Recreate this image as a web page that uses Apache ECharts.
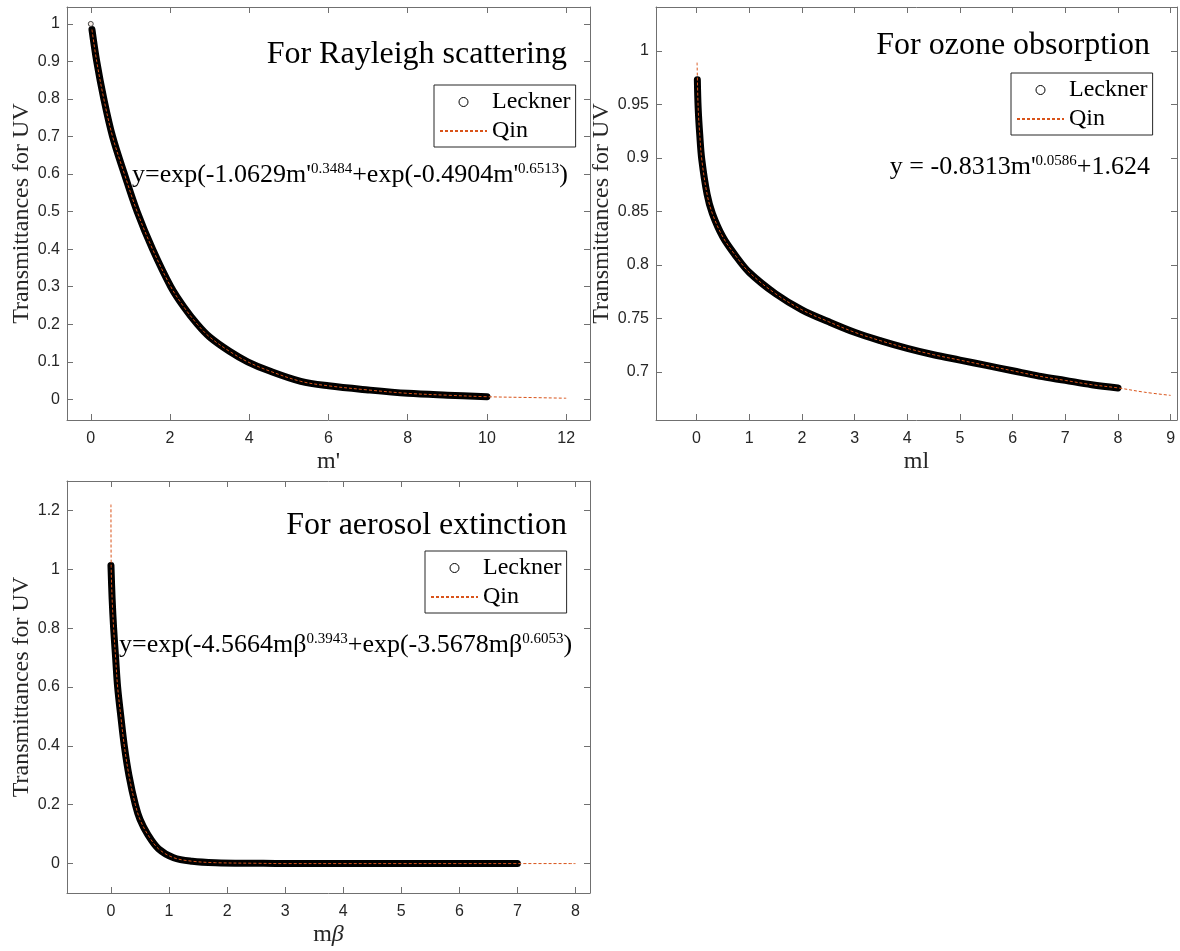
<!DOCTYPE html>
<html>
<head>
<meta charset="utf-8">
<script src="https://cdn.jsdelivr.net/npm/echarts@6/dist/echarts.min.js"></script>
<style>
  html, body { margin: 0; padding: 0; background: #fff; }
  #chart { width: 1180px; height: 951px; }
</style>
</head>
<body>
<div id="chart"></div>
<script>
// ---- Rayleigh scattering: transmittance vs m' ----
const rayleighLecknerX = [0.03, 0.15, 0.33, 0.55, 0.85, 1.17, 1.56, 2.02, 2.35, 2.69, 3.0, 3.5, 3.96, 4.5, 5.3, 6, 7, 8, 9, 10];
const rayleighLecknerY = [0.985, 0.9, 0.8, 0.7, 0.6, 0.5, 0.4, 0.3, 0.246, 0.2, 0.166, 0.128, 0.1, 0.076, 0.048, 0.036, 0.025, 0.016, 0.011, 0.007];
const rayleighLecknerStart = [0, 1.0];
const rayleighQinX = [0.03, 0.15, 0.33, 0.55, 0.85, 1.17, 1.56, 2.02, 2.35, 2.69, 3.0, 3.5, 3.96, 4.5, 5.3, 6, 7, 8, 9, 10, 11, 12];
const rayleighQinY = [0.985, 0.9, 0.8, 0.7, 0.6, 0.5, 0.4, 0.3, 0.246, 0.2, 0.166, 0.128, 0.1, 0.076, 0.048, 0.036, 0.025, 0.016, 0.011, 0.007, 0.005, 0.003];

// ---- Ozone absorption: transmittance vs ml ----
const ozoneLecknerX = [0.015, 0.03, 0.06, 0.1, 0.2, 0.3, 0.5, 0.75, 1, 1.5, 2, 2.5, 3, 3.5, 4, 4.5, 5, 5.5, 6, 6.5, 7, 7.5, 8];
const ozoneLecknerY = [0.973, 0.947, 0.922, 0.898, 0.866, 0.848, 0.826, 0.808, 0.793, 0.773, 0.758, 0.747, 0.737, 0.729, 0.722, 0.716, 0.711, 0.706, 0.701, 0.696, 0.692, 0.688, 0.685];
const ozoneQinX = [0.01, 0.03, 0.06, 0.1, 0.2, 0.3, 0.5, 0.75, 1, 1.5, 2, 2.5, 3, 3.5, 4, 4.5, 5, 5.5, 6, 6.5, 7, 7.5, 8, 8.5, 9];
const ozoneQinY = [0.989, 0.947, 0.922, 0.898, 0.866, 0.848, 0.826, 0.808, 0.793, 0.773, 0.758, 0.747, 0.737, 0.729, 0.722, 0.716, 0.711, 0.706, 0.701, 0.696, 0.692, 0.688, 0.685, 0.681, 0.678];

// ---- Aerosol extinction: transmittance vs m·beta ----
const aerosolLecknerX = [0, 0.02, 0.046, 0.08, 0.115, 0.17, 0.23, 0.31, 0.42, 0.5, 0.63, 0.82, 1.08, 1.4, 1.8, 2.5, 3, 4, 5, 6, 7];
const aerosolLecknerY = [1.013, 0.9, 0.8, 0.7, 0.6, 0.5, 0.4, 0.3, 0.2, 0.15, 0.1, 0.05, 0.02, 0.008, 0.003, 0.001, 0, 0, 0, 0, 0];
const aerosolQinX = [0, 0.004, 0.02, 0.046, 0.08, 0.115, 0.17, 0.23, 0.31, 0.42, 0.5, 0.63, 0.82, 1.08, 1.4, 1.8, 2.5, 3, 4, 5, 6, 7, 8];
const aerosolQinY = [1.22, 1.01, 0.9, 0.8, 0.7, 0.6, 0.5, 0.4, 0.3, 0.2, 0.15, 0.1, 0.05, 0.02, 0.008, 0.003, 0.001, 0, 0, 0, 0, 0, 0];

// ---- Tick values ----
const rayleighXTicks = [0, 2, 4, 6, 8, 10, 12];
const rayleighYTicks = [0, 0.1, 0.2, 0.3, 0.4, 0.5, 0.6, 0.7, 0.8, 0.9, 1];
const ozoneXTicks = [0, 1, 2, 3, 4, 5, 6, 7, 8, 9];
const ozoneYTicks = [0.7, 0.75, 0.8, 0.85, 0.9, 0.95, 1];
const aerosolXTicks = [0, 1, 2, 3, 4, 5, 6, 7, 8];
const aerosolYTicks = [0, 0.2, 0.4, 0.6, 0.8, 1, 1.2];

const zip = (xs, ys) => xs.map((x, i) => [x, ys[i]]);

const AXIS_COLOR = '#707070';
const LABEL_COLOR = '#262626';
const SERIF = 'Liberation Serif';
const SANS = 'Liberation Sans';
const QIN_COLOR = '#D95319';

const grids = [
  { left: 67, top: 7, width: 523, height: 413 },
  { left: 656, top: 7, width: 521, height: 413 },
  { left: 67, top: 481, width: 523, height: 412 }
];

const xAxes = [];
const yAxes = [];

function addAxes(gi, xr, yr, xTicks, yTicks, xName, yName, yGap) {
  const line = { show: true, onZero: false, lineStyle: { color: AXIS_COLOR, width: 1 } };
  const tick = (vals) => ({ show: true, inside: true, length: 6, customValues: vals, lineStyle: { color: AXIS_COLOR, width: 1 } });
  const lbl = (vals, margin) => ({ customValues: vals, color: LABEL_COLOR, fontFamily: SANS, fontSize: 16, margin: margin });
  xAxes.push({
    type: 'value', gridIndex: gi, position: 'bottom', min: xr[0], max: xr[1],
    splitLine: { show: false }, axisLine: line, axisTick: tick(xTicks), axisLabel: lbl(xTicks, 11),
    name: xName, nameLocation: 'middle', nameGap: 30,
    nameTextStyle: { fontFamily: SERIF, fontSize: 24, color: LABEL_COLOR, rich: { i: { fontFamily: SERIF, fontSize: 24, fontStyle: 'italic', color: LABEL_COLOR } } }
  });
  xAxes.push({
    type: 'value', gridIndex: gi, position: 'top', min: xr[0], max: xr[1],
    splitLine: { show: false }, axisLine: line, axisTick: tick(xTicks), axisLabel: { show: false }
  });
  yAxes.push({
    type: 'value', gridIndex: gi, position: 'left', min: yr[0], max: yr[1],
    splitLine: { show: false }, axisLine: line, axisTick: tick(yTicks), axisLabel: lbl(yTicks, 7),
    name: yName, nameLocation: 'middle', nameGap: yGap,
    nameTextStyle: { fontFamily: SERIF, fontSize: 24, color: LABEL_COLOR }
  });
  yAxes.push({
    type: 'value', gridIndex: gi, position: 'right', min: yr[0], max: yr[1],
    splitLine: { show: false }, axisLine: line, axisTick: tick(yTicks), axisLabel: { show: false }
  });
}

addAxes(0, [-0.6, 12.6], [-0.055, 1.045], rayleighXTicks, rayleighYTicks, "m'", 'Transmittances for UV', 31);
addAxes(1, [-0.77, 9.12], [0.655, 1.041], ozoneXTicks, ozoneYTicks, 'ml', 'Transmittances for UV', 40);
addAxes(2, [-0.757, 8.25], [-0.1, 1.3], aerosolXTicks, aerosolYTicks, 'm{i|β}', 'Transmittances for UV', 31);

function lecknerSeries(gi, data) {
  return {
    name: 'Leckner', type: 'line', xAxisIndex: gi * 2, yAxisIndex: gi * 2,
    data: data, symbol: 'none', smooth: 0.35, z: 2,
    lineStyle: { color: '#000', width: 7, cap: 'round', join: 'round' },
    itemStyle: { color: '#000' }, silent: true
  };
}
function qinSeries(gi, data) {
  return {
    name: 'Qin', type: 'line', xAxisIndex: gi * 2, yAxisIndex: gi * 2,
    data: data, symbol: 'none', smooth: 0.35, z: 3,
    lineStyle: { color: QIN_COLOR, width: 1, type: [3, 2] },
    itemStyle: { color: QIN_COLOR }, silent: true
  };
}

const series = [
  lecknerSeries(0, zip(rayleighLecknerX, rayleighLecknerY)),
  {
    name: 'Leckner', type: 'scatter', xAxisIndex: 0, yAxisIndex: 0, z: 2,
    data: [rayleighLecknerStart], symbol: 'circle', symbolSize: 5,
    itemStyle: { color: '#f3e6df', borderColor: '#222', borderWidth: 1 }, silent: true
  },
  qinSeries(0, zip(rayleighQinX, rayleighQinY)),
  lecknerSeries(1, zip(ozoneLecknerX, ozoneLecknerY)),
  qinSeries(1, zip(ozoneQinX, ozoneQinY)),
  lecknerSeries(2, zip(aerosolLecknerX, aerosolLecknerY)),
  qinSeries(2, zip(aerosolQinX, aerosolQinY))
];

function legendAt(left, top) {
  return {
    left: left, top: top, orient: 'vertical', itemWidth: 47, itemHeight: 9, itemGap: 5,
    padding: [5, 5, 4, 5], borderColor: '#262626', borderWidth: 1, backgroundColor: '#fff',
    selectedMode: false,
    textStyle: { fontFamily: SERIF, fontSize: 24, color: '#000' },
    data: [
      { name: 'Leckner', icon: 'circle', itemStyle: { color: '#fff', borderColor: '#000', borderWidth: 1 } },
      { name: 'Qin', itemStyle: { opacity: 0 } }
    ]
  };
}

const mainStyle = { fontFamily: SERIF, fontSize: 26, color: '#000' };
const supStyle = { fontFamily: SERIF, fontSize: 15, color: '#000', verticalAlign: 'top' };
const eqRich = { m: mainStyle, s: supStyle };

function label(x, y, text, size, align) {
  return {
    type: 'text', x: x, y: y, silent: true, z: 10,
    style: { text: text, fontFamily: SERIF, fontSize: size, fill: '#000', align: align, textAlign: align, verticalAlign: 'middle', textVerticalAlign: 'middle' }
  };
}
function equation(x, y, text, align) {
  return {
    type: 'text', x: x, y: y, silent: true, z: 10,
    style: { text: text, rich: eqRich, fill: '#000', fontFamily: SERIF, fontSize: 26, align: align, textAlign: align, verticalAlign: 'middle', textVerticalAlign: 'middle' }
  };
}

const option = {
  backgroundColor: '#fff',
  animation: false,
  grid: grids,
  xAxis: xAxes,
  yAxis: yAxes,
  series: series,
  legend: [legendAt(434, 85), legendAt(1011, 73), legendAt(425, 551)],
  graphic: [
    label(567, 55, 'For Rayleigh scattering', 32, 'right'),
    label(1150, 46, 'For ozone obsorption', 32, 'right'),
    label(567, 526, 'For aerosol extinction', 32, 'right'),
    equation(132, 175, "{m|y=exp(-1.0629m'}{s|0.3484}{m|+exp(-0.4904m'}{s|0.6513}{m|)}", 'left'),
    equation(1150, 167, "{m|y = -0.8313m'}{s|0.0586}{m|+1.624}", 'right'),
    equation(119, 645, '{m|y=exp(-4.5664mβ}{s|0.3943}{m|+exp(-3.5678mβ}{s|0.6053}{m|)}', 'left')
  ]
};

const chart = echarts.init(document.getElementById('chart'), null, { renderer: 'canvas' });
chart.setOption(option);
</script>
</body>
</html>
